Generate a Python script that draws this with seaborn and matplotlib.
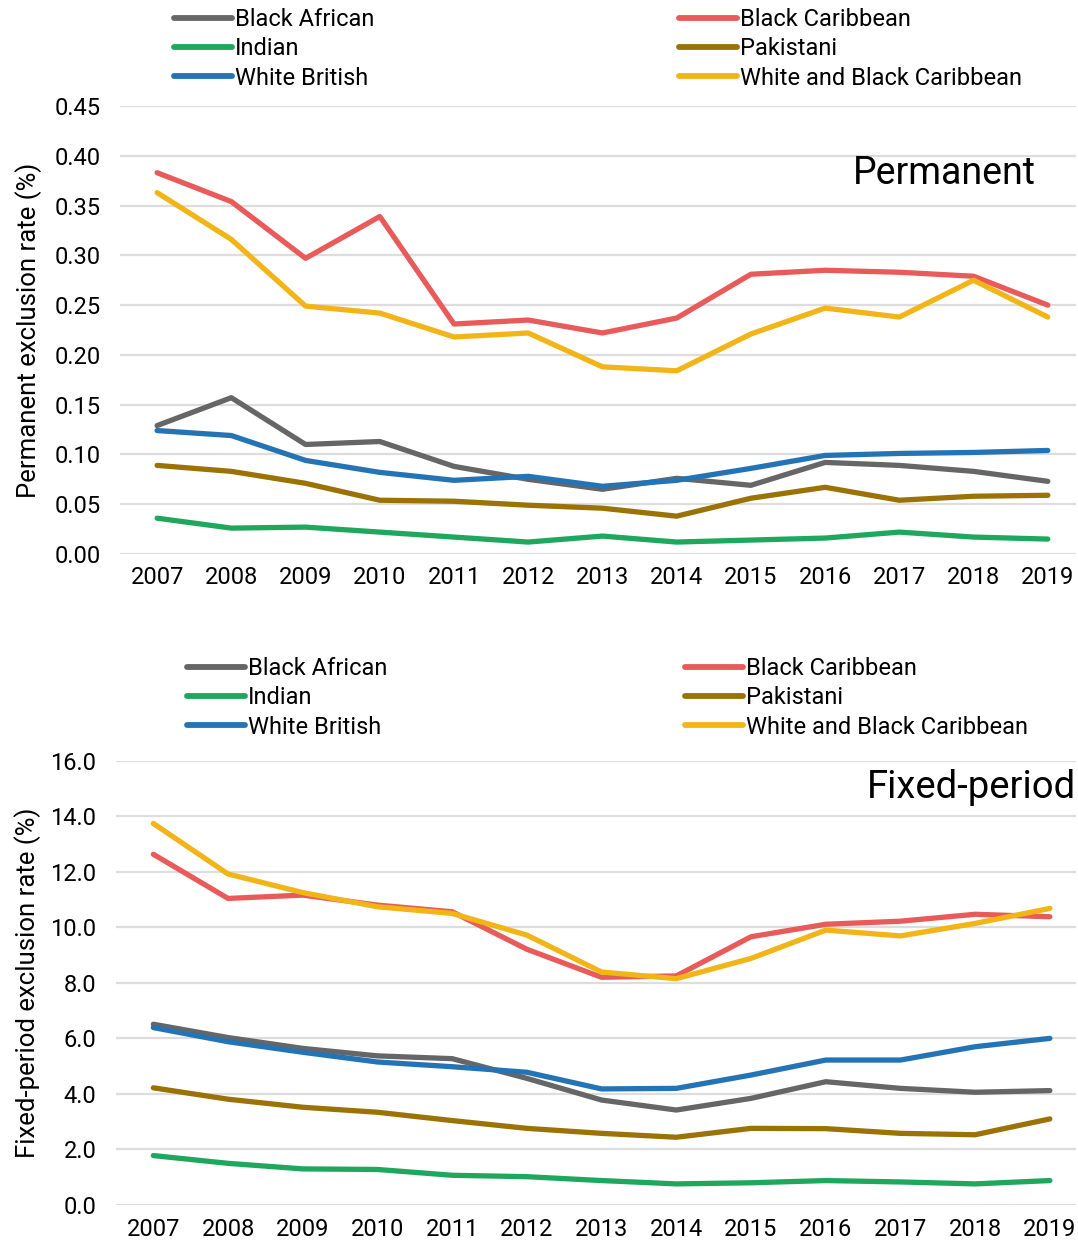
import numpy as np
import pandas as pd
import seaborn as sns
import matplotlib
matplotlib.use("Agg")
import matplotlib.pyplot as plt
from matplotlib.lines import Line2D

years = list(range(2007, 2020))
groups = ["Black African", "Indian", "White British",
          "Black Caribbean", "Pakistani", "White and Black Caribbean"]
colors = ["#666666", "#1FA75D", "#2474B5", "#E95A5A", "#9A7205", "#F2B518"]

# Permanent exclusion rate (%)
perm_black_african = [0.129, 0.157, 0.110, 0.113, 0.088, 0.075, 0.065, 0.076, 0.069, 0.092, 0.089, 0.083, 0.073]
perm_indian = [0.036, 0.026, 0.027, 0.022, 0.017, 0.012, 0.018, 0.012, 0.014, 0.016, 0.022, 0.017, 0.015]
perm_white_british = [0.124, 0.119, 0.094, 0.082, 0.074, 0.078, 0.068, 0.074, 0.086, 0.099, 0.101, 0.102, 0.104]
perm_black_caribbean = [0.383, 0.354, 0.297, 0.339, 0.231, 0.235, 0.222, 0.237, 0.281, 0.285, 0.283, 0.279, 0.250]
perm_pakistani = [0.089, 0.083, 0.071, 0.054, 0.053, 0.049, 0.046, 0.038, 0.056, 0.067, 0.054, 0.058, 0.059]
perm_wbc = [0.363, 0.316, 0.249, 0.242, 0.218, 0.222, 0.188, 0.184, 0.221, 0.247, 0.238, 0.275, 0.238]

# Fixed-period exclusion rate (%)
fixed_black_african = [6.51, 6.03, 5.64, 5.37, 5.27, 4.56, 3.78, 3.42, 3.84, 4.44, 4.20, 4.06, 4.12]
fixed_indian = [1.78, 1.50, 1.30, 1.28, 1.07, 1.02, 0.88, 0.76, 0.80, 0.88, 0.83, 0.76, 0.88]
fixed_white_british = [6.39, 5.88, 5.50, 5.15, 4.98, 4.78, 4.18, 4.20, 4.68, 5.22, 5.22, 5.70, 6.00]
fixed_black_caribbean = [12.63, 11.04, 11.16, 10.80, 10.56, 9.21, 8.20, 8.25, 9.66, 10.11, 10.22, 10.47, 10.38]
fixed_pakistani = [4.22, 3.81, 3.52, 3.34, 3.04, 2.76, 2.58, 2.44, 2.76, 2.75, 2.58, 2.53, 3.10]
fixed_wbc = [13.74, 11.92, 11.25, 10.74, 10.50, 9.72, 8.39, 8.15, 8.88, 9.90, 9.69, 10.14, 10.68]

perm_ticks = [0.00, 0.05, 0.10, 0.15, 0.20, 0.25, 0.30, 0.35, 0.40, 0.45]
fixed_ticks = [0.0, 2.0, 4.0, 6.0, 8.0, 10.0, 12.0, 14.0, 16.0]

perm = dict(zip(groups, [perm_black_african, perm_indian, perm_white_british,
                         perm_black_caribbean, perm_pakistani, perm_wbc]))
fixed = dict(zip(groups, [fixed_black_african, fixed_indian, fixed_white_british,
                          fixed_black_caribbean, fixed_pakistani, fixed_wbc]))

def long_df(d):
    rows = []
    for g in groups:
        for y, v in zip(years, d[g]):
            rows.append({"year": y, "group": g, "value": v})
    return pd.DataFrame(rows)

sns.set_theme(style="white")
plt.rcParams["font.family"] = ["Roboto", "DejaVu Sans"]
plt.rcParams["text.color"] = "black"
plt.rcParams["axes.labelcolor"] = "black"
plt.rcParams["xtick.color"] = "black"
plt.rcParams["ytick.color"] = "black"

W, H = 1078, 1243
fig = plt.figure(figsize=(W / 100, H / 100), dpi=100)

def px_axes(left, right, top, bottom):
    return fig.add_axes([left / W, 1 - bottom / H, (right - left) / W, (bottom - top) / H])

palette = dict(zip(groups, colors))
FS = 17

def draw(ax, df, ticks, fmt, ylabel, xlim, ylim, ylfs, ypad, lpad):
    sns.lineplot(data=df, x="year", y="value", hue="group", hue_order=groups,
                 palette=palette, linewidth=3.8, legend=False, ax=ax,
                 solid_capstyle="round")
    ax.set_xlim(*xlim)
    ax.set_ylim(*ylim)
    ax.set_xticks(years)
    ax.set_xticklabels([str(y) for y in years], fontsize=FS)
    ax.set_yticks(ticks)
    ax.set_yticklabels([fmt.format(t) for t in ticks], fontsize=FS)
    ax.tick_params(axis="y", length=0, pad=ypad)
    ax.tick_params(axis="x", length=0, pad=9)
    ax.yaxis.grid(True, color="#dddddd", linewidth=1.6)
    ax.xaxis.grid(False)
    for s in ax.spines.values():
        s.set_visible(False)
    ax.set_xlabel("")
    ax.set_ylabel(ylabel, fontsize=ylfs, labelpad=lpad)
    ax.set_axisbelow(True)

ax1 = px_axes(120, 1076, 106, 554)
draw(ax1, long_df(perm), perm_ticks, "{:.2f}", "Permanent exclusion rate (%)",
     (2006.5, 2019.38), (0, 0.45), 18.5, 14, 9)
ax2 = px_axes(116, 1076, 760.7, 1205)
draw(ax2, long_df(fixed), fixed_ticks, "{:.1f}", "Fixed-period exclusion rate (%)",
     (2006.5, 2019.35), (0, 16), 18.5, 14, 7)

def add_legend(x_left, y_top, names):
    handles = [Line2D([0], [0], color=palette[n], linewidth=4.2, solid_capstyle="round") for n in names]
    leg = fig.legend(handles, names, loc="upper left",
                     bbox_to_anchor=(x_left / W, 1 - y_top / H),
                     frameon=False, fontsize=FS, handlelength=2.45,
                     handletextpad=0.12, labelspacing=0.27, borderpad=0,
                     borderaxespad=0)
    return leg

add_legend(174, 8, groups[:3])
add_legend(679, 8, groups[3:])
add_legend(187, 657, groups[:3])
add_legend(685, 657, groups[3:])

fig.text(1036 / W, 1 - 174 / H, "Permanent", ha="right", va="center", fontsize=27)
fig.text(1076 / W, 1 - 788 / H, "Fixed-period", ha="right", va="center", fontsize=27.5)

fig.savefig("out.png", dpi=100, facecolor="white")
